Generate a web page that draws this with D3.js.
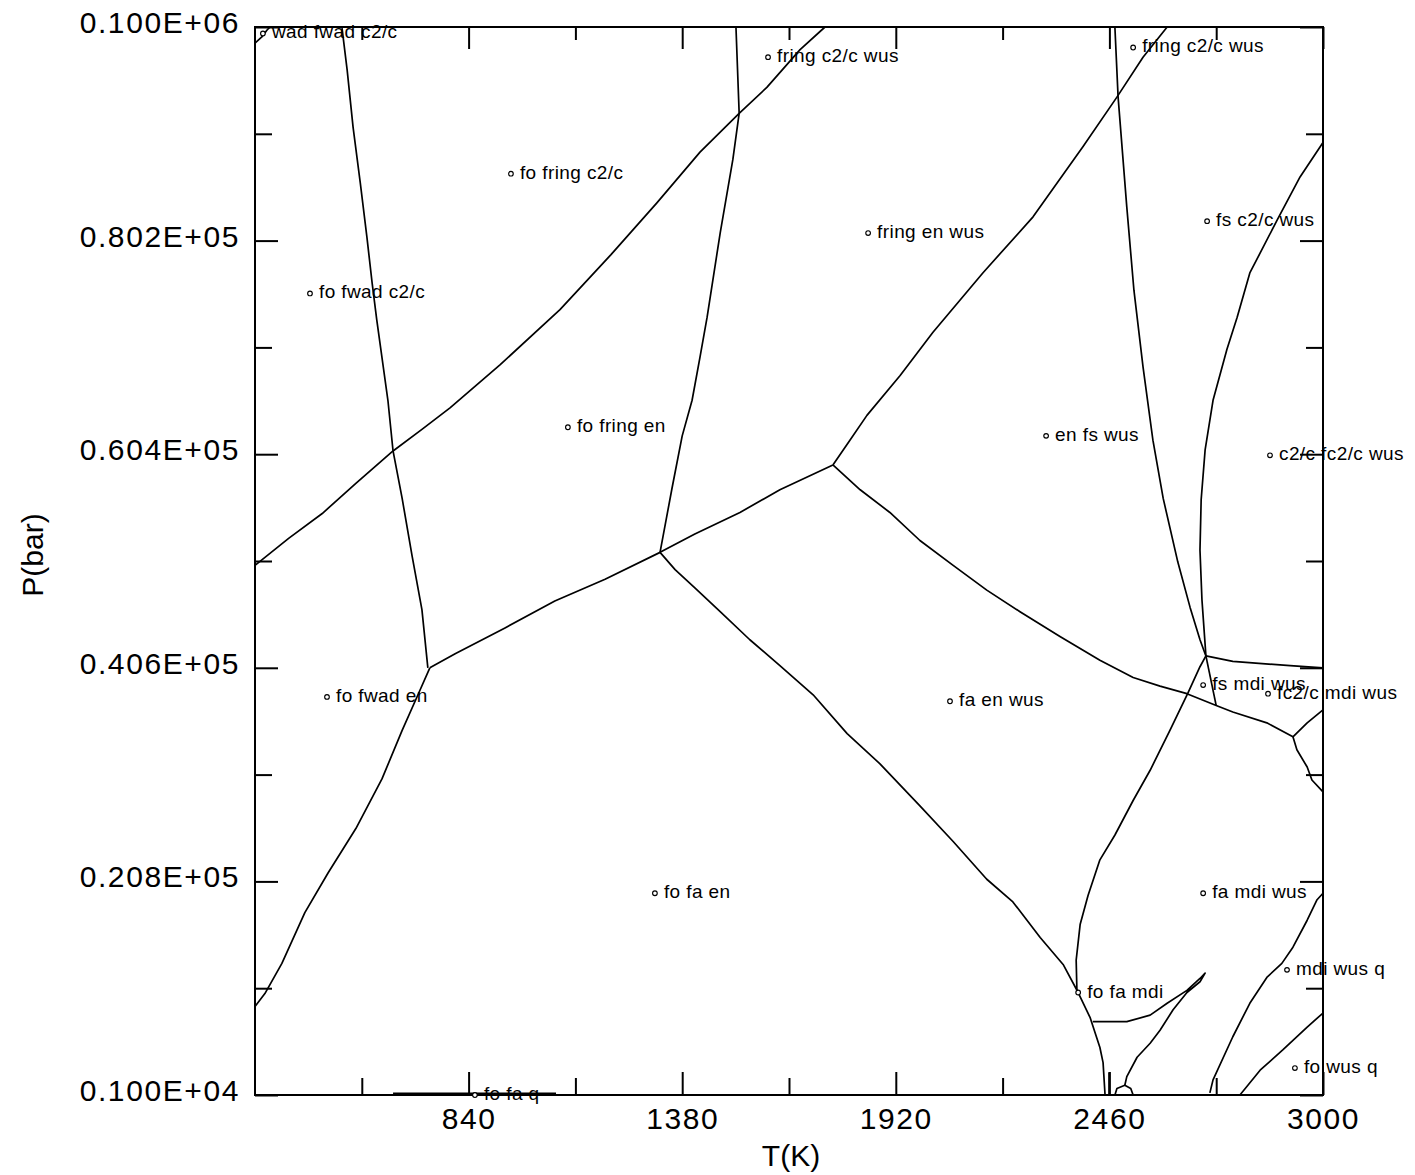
<!DOCTYPE html>
<html>
<head>
<meta charset="utf-8">
<script src="https://cdn.jsdelivr.net/npm/d3@7"></script>
<style>
  body { margin: 0; background: #fff; }
  svg { display: block; }
</style>
</head>
<body>
<svg id="chart"></svg>
<script>
// Phase diagram, P(bar) vs T(K)

// axis ticks
const tMajor = [840, 1380, 1920, 2460, 3000];
const tMinor = [570, 1110, 1650, 2190, 2730];
const pMajor = [1000, 20800, 40600, 60400, 80200, 100000];
const pMinor = [10900, 30700, 50500, 70300, 90100];
const pTickLabels = ["0.100E+04", "0.208E+05", "0.406E+05", "0.604E+05", "0.802E+05", "0.100E+06"];

// phase boundaries, [T, P] pairs
const curveWad = [[300, 98500], [318, 99100], [330, 99700], [338, 100000]];
const curveFwad = [[520, 99900], [533, 96000], [548, 90700], [566, 85600], [583, 80500], [596, 76300],
  [608, 72800], [636, 65400], [649, 60700], [672, 56300], [697, 51000], [722, 46000], [737, 40600]];
const curveC2c = [[300, 50100], [385, 52600], [470, 54900], [555, 57700], [649, 60700], [722, 62700],
  [793, 64700], [920, 68700], [1071, 73800], [1200, 78900], [1316, 83700], [1425, 88400],
  [1524, 92000], [1594, 94400], [1678, 97900], [1741, 100000]];
const curveFring = [[1516, 99900], [1524, 92000], [1508, 87700], [1476, 80900], [1443, 73100],
  [1425, 69400], [1405, 65400], [1380, 62100], [1354, 57200], [1324, 51300]];
const curveFoEn = [[742, 40600], [712, 38100], [672, 34800], [621, 30300], [555, 25700], [485, 21600],
  [426, 17900], [368, 13200], [325, 10400], [300, 9200]];
const curveEn1 = [[742, 40600], [806, 41900], [932, 44300], [1058, 46800], [1185, 48800], [1324, 51300]];
const curveEn2 = [[1324, 51300], [1412, 53000], [1526, 55000], [1627, 57100], [1761, 59400]];
const curveWus = [[1761, 59400], [1804, 61700], [1847, 64000], [1931, 67700], [2014, 71700], [2140, 77200],
  [2267, 82400], [2393, 88900], [2479, 93500], [2545, 97200], [2606, 100000]];
const curveFs = [[2474, 99900], [2482, 93500], [2504, 83300], [2522, 75600], [2545, 68500], [2570, 61700],
  [2596, 56300], [2633, 50400], [2664, 46200], [2689, 43200], [2704, 41700]];
const curveFc2c = [[3000, 89300], [2942, 86100], [2884, 82100], [2815, 77200], [2783, 73100], [2757, 70100],
  [2722, 65400], [2702, 60800], [2692, 56200], [2689, 51500], [2694, 46900], [2704, 41700]];
const curveMdiTop = [[2704, 41700], [2772, 41200], [2917, 40800], [3000, 40600]];
const curveMdiStub = [[2704, 41700], [2730, 37100]];
const curveFa = [[1761, 59400], [1830, 57100], [1905, 55000], [1981, 52400], [2065, 50100], [2150, 47800],
  [2234, 45800], [2335, 43500], [2436, 41300], [2520, 39700], [2588, 38900], [2656, 38200],
  [2730, 37100], [2772, 36500], [2858, 35500], [2924, 34200]];
const curveQ1 = [[2924, 34200], [2960, 35500], [3000, 36700]];
const curveQ2 = [[2924, 34200], [2934, 33000], [2960, 31400], [2972, 30200], [3000, 29100]];
const curveMdi = [[2704, 41700], [2689, 40700], [2659, 38300], [2613, 34800], [2563, 31100], [2520, 28300],
  [2474, 25100], [2436, 22800], [2406, 19500], [2386, 16800], [2376, 13500], [2378, 10500]];
const curveFaEn = [[1324, 51300], [1362, 49700], [1412, 48000], [1476, 45800], [1551, 43200], [1627, 40800],
  [1711, 38100], [1797, 34500], [1880, 31700], [1981, 27800], [2065, 24500], [2150, 21000],
  [2216, 18900], [2285, 15600], [2343, 13100], [2381, 10500], [2411, 8200], [2436, 5400],
  [2444, 4000], [2449, 1000]];
const curveStub = [[2459, 3100], [2459, 1000]];
const curveHook = [[2418, 7800], [2504, 7800], [2563, 8400], [2606, 9500], [2656, 10700], [2689, 11800],
  [2702, 12300], [2689, 11500], [2656, 10500], [2621, 8900], [2588, 7000], [2563, 5800],
  [2530, 4500], [2504, 2700], [2499, 1900]];
const curveLoop = [[2474, 1000], [2479, 1600], [2499, 1900], [2514, 1600], [2520, 1000]];
const curveWusQ = [[2714, 1200], [2722, 2400], [2772, 6400], [2815, 9500], [2858, 11900], [2896, 13200],
  [2924, 14700], [2960, 17200], [2985, 19100], [3000, 19700]];
const curveFoWusQ = [[2790, 1000], [2841, 3300], [2899, 5200], [2960, 7300], [3000, 8600]];
const curveFoFaQ = [[649, 1100], [1061, 1100]];

const curves = [curveWad, curveFwad, curveC2c, curveFring, curveFoEn, curveEn1, curveEn2, curveWus,
  curveFs, curveFc2c, curveMdiTop, curveMdiStub, curveFa, curveQ1, curveQ2, curveMdi, curveFaEn,
  curveStub, curveHook, curveLoop, curveWusQ, curveFoWusQ];

// field labels: [T, P, assemblage]
const fieldLabels = [
  [320, 99400, "wad fwad c2/c"],
  [1597, 97200, "fring c2/c wus"],
  [2520, 98100, "fring c2/c wus"],
  [947, 86400, "fo fring c2/c"],
  [1850, 80900, "fring en wus"],
  [2707, 82000, "fs c2/c wus"],
  [439, 75300, "fo fwad c2/c"],
  [1091, 62900, "fo fring en"],
  [2300, 62100, "en fs wus"],
  [2866, 60300, "c2/c fc2/c wus"],
  [482, 37900, "fo fwad en"],
  [2057, 37500, "fa en wus"],
  [2697, 39000, "fs mdi wus"],
  [2861, 38200, "fc2/c mdi wus"],
  [1311, 19700, "fo fa en"],
  [2697, 19700, "fa mdi wus"],
  [2909, 12600, "mdi wus q"],
  [2381, 10500, "fo fa mdi"],
  [2929, 3500, "fo wus q"],
  [856, 1000, "fo fa q"]
];

const width = 1415, height = 1175;
const plotLeft = 255, plotRight = 1323, plotTop = 27, plotBottom = 1095;
const font = '"Liberation Sans", Arial, Helvetica, sans-serif';

const svg = d3.select("#chart").attr("width", width).attr("height", height);

const x = d3.scaleLinear().domain([300, 3000]).range([plotLeft, plotRight]);
const y = d3.scaleLinear().domain([1000, 100000]).range([plotBottom, plotTop]);

// boundaries
const line = d3.line().x(d => x(d[0])).y(d => y(d[1]));
svg.append("g")
  .attr("fill", "none")
  .attr("stroke", "#000")
  .attr("stroke-width", 1.7)
  .attr("stroke-linejoin", "round")
  .selectAll("path")
  .data(curves)
  .join("path")
  .attr("d", line);

svg.append("path")
  .attr("d", line(curveFoFaQ))
  .attr("stroke", "#000")
  .attr("stroke-width", 3)
  .attr("fill", "none");

// axes: ticks point inward, frame drawn separately
function styleAxis(g) {
  g.select(".domain").remove();
  g.selectAll(".tick line").attr("stroke", "#000").attr("stroke-width", 2);
}

svg.append("g").attr("transform", `translate(0,${plotBottom})`)
  .call(d3.axisBottom(x).tickValues(tMajor).tickSize(-23).tickPadding(13).tickFormat(d3.format("d")))
  .call(styleAxis)
  .selectAll("text")
  .attr("font-family", font).attr("font-size", 30).attr("letter-spacing", 1.6).attr("fill", "#000");
svg.append("g").attr("transform", `translate(0,${plotBottom})`)
  .call(d3.axisBottom(x).tickValues(tMinor).tickSize(-17).tickFormat(""))
  .call(styleAxis);
svg.append("g").attr("transform", `translate(0,${plotTop})`)
  .call(d3.axisTop(x).tickValues(tMajor).tickSize(-22).tickFormat(""))
  .call(styleAxis);
svg.append("g").attr("transform", `translate(0,${plotTop})`)
  .call(d3.axisTop(x).tickValues(tMinor).tickSize(-13).tickFormat(""))
  .call(styleAxis);

svg.append("g").attr("transform", `translate(${plotLeft},0)`)
  .call(d3.axisLeft(y).tickValues(pMajor).tickSize(-23).tickPadding(15)
    .tickFormat((d, i) => pTickLabels[i]))
  .call(styleAxis)
  .selectAll("text")
  .attr("dy", "0.18em")
  .attr("font-family", font).attr("font-size", 30).attr("letter-spacing", 1.6).attr("fill", "#000");
svg.append("g").attr("transform", `translate(${plotLeft},0)`)
  .call(d3.axisLeft(y).tickValues(pMinor).tickSize(-17).tickFormat(""))
  .call(styleAxis);
svg.append("g").attr("transform", `translate(${plotRight},0)`)
  .call(d3.axisRight(y).tickValues(pMajor).tickSize(-23).tickFormat(""))
  .call(styleAxis);
svg.append("g").attr("transform", `translate(${plotRight},0)`)
  .call(d3.axisRight(y).tickValues(pMinor).tickSize(-17).tickFormat(""))
  .call(styleAxis);

// frame
svg.append("rect")
  .attr("x", plotLeft).attr("y", plotTop)
  .attr("width", plotRight - plotLeft).attr("height", plotBottom - plotTop)
  .attr("fill", "none").attr("stroke", "#000").attr("stroke-width", 2);

// field labels
const lab = svg.append("g").selectAll("g")
  .data(fieldLabels)
  .join("g")
  .attr("transform", d => `translate(${x(d[0])},${y(d[1])})`);
lab.append("circle")
  .attr("r", 2.3)
  .attr("fill", "#fff")
  .attr("stroke", "#000")
  .attr("stroke-width", 1.2);
lab.append("text")
  .attr("x", 9).attr("y", 5)
  .attr("font-family", font).attr("font-size", 19).attr("letter-spacing", 0.4)
  .attr("fill", "#000")
  .text(d => d[2]);

// axis titles
svg.append("text")
  .attr("x", 791).attr("y", 1166)
  .attr("text-anchor", "middle")
  .attr("font-family", font).attr("font-size", 30)
  .text("T(K)");
svg.append("text")
  .attr("transform", "translate(43,555) rotate(-90)")
  .attr("text-anchor", "middle")
  .attr("font-family", font).attr("font-size", 30)
  .text("P(bar)");
</script>
</body>
</html>
